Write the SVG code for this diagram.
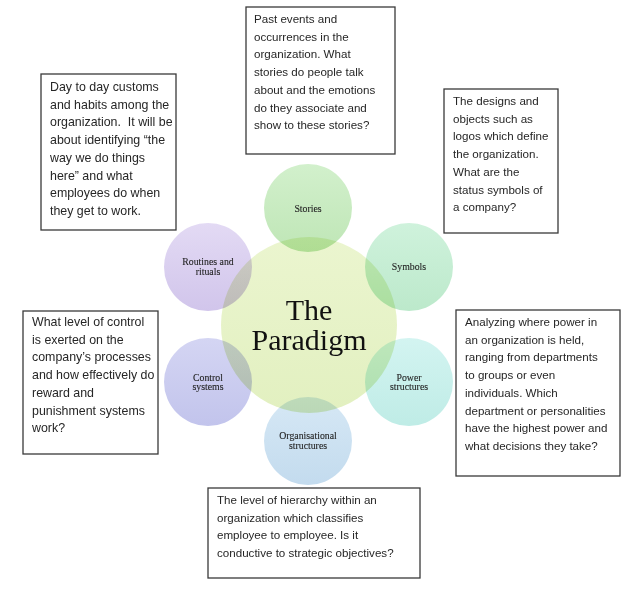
<svg xmlns="http://www.w3.org/2000/svg" width="640" height="589" viewBox="0 0 640 589">
<defs>
<linearGradient id="gStories" x1="0" y1="0" x2="0" y2="1"><stop offset="0" stop-color="#d2f0cc"/><stop offset="1" stop-color="#bfe6b6"/></linearGradient>
<linearGradient id="gSymbols" x1="0" y1="0" x2="0" y2="1"><stop offset="0" stop-color="#cff2dc"/><stop offset="1" stop-color="#bce9cb"/></linearGradient>
<linearGradient id="gPower" x1="0" y1="0" x2="0" y2="1"><stop offset="0" stop-color="#d3f4f1"/><stop offset="1" stop-color="#bfece6"/></linearGradient>
<linearGradient id="gOrg" x1="0" y1="0" x2="0" y2="1"><stop offset="0" stop-color="#d6e8f5"/><stop offset="1" stop-color="#c3dbee"/></linearGradient>
<linearGradient id="gControl" x1="0" y1="0" x2="0" y2="1"><stop offset="0" stop-color="#d4d5f3"/><stop offset="1" stop-color="#c2c4ec"/></linearGradient>
<linearGradient id="gRoutines" x1="0" y1="0" x2="0" y2="1"><stop offset="0" stop-color="#e3daf4"/><stop offset="1" stop-color="#d1c5eb"/></linearGradient>
<linearGradient id="gCenter" x1="0" y1="0" x2="0" y2="1"><stop offset="0" stop-color="#ebf5cf"/><stop offset="1" stop-color="#e2f0c0"/></linearGradient>
</defs>
<style>
.bg{fill:#ffffff}
.box{fill:#ffffff;stroke:#3a3a3a;stroke-width:1.3}
.t{font-family:"Liberation Sans",Arial,sans-serif;font-size:11.6px;fill:#262626}
.t2{font-family:"Liberation Sans",Arial,sans-serif;font-size:12.4px;fill:#262626}
.sat{mix-blend-mode:multiply}
.lbl{font-family:"Liberation Serif","Times New Roman",serif;font-size:9.8px;fill:#222222;stroke:#222222;stroke-width:0.1;text-anchor:middle}
.big{font-family:"Liberation Serif","Times New Roman",serif;font-size:30px;fill:#111111;text-anchor:middle}
</style>
<rect class="bg" x="0" y="0" width="640" height="589"/>
<g id="connectors"/>
<g id="paradigm">
<circle cx="309" cy="325" r="88" fill="url(#gCenter)"/>
</g>
<g id="stories" class="sat">
<circle cx="308" cy="208" r="44" fill="url(#gStories)"/>
</g>
<g id="symbols" class="sat">
<circle cx="409" cy="267" r="44" fill="url(#gSymbols)"/>
</g>
<g id="power" class="sat">
<circle cx="409" cy="382" r="44" fill="url(#gPower)"/>
</g>
<g id="organisational" class="sat">
<circle cx="308" cy="441" r="44" fill="url(#gOrg)"/>
</g>
<g id="control" class="sat">
<circle cx="208" cy="382" r="44" fill="url(#gControl)"/>
</g>
<g id="routines" class="sat">
<circle cx="208" cy="267" r="44" fill="url(#gRoutines)"/>
</g>
<g id="labels">
<text class="big" x="309" y="320">The</text>
<text class="big" x="309" y="350">Paradigm</text>
<text class="lbl" x="308" y="212">Stories</text>
<text class="lbl" x="409" y="270">Symbols</text>
<text class="lbl"><tspan x="409" y="380.5">Power</tspan><tspan x="409" y="390.2">structures</tspan></text>
<text class="lbl"><tspan x="308" y="439">Organisational</tspan><tspan x="308" y="448.7">structures</tspan></text>
<text class="lbl"><tspan x="208" y="380.5">Control</tspan><tspan x="208" y="390.2">systems</tspan></text>
<text class="lbl"><tspan x="208" y="265">Routines and</tspan><tspan x="208" y="274.7">rituals</tspan></text>
</g>
<g id="box-stories">
<rect class="box" x="246" y="7" width="149" height="147"/>
<text class="t"><tspan x="254" y="23">Past events and</tspan><tspan x="254" y="40.7">occurrences in the</tspan><tspan x="254" y="58.4">organization. What</tspan><tspan x="254" y="76.1">stories do people talk</tspan><tspan x="254" y="93.8">about and the emotions</tspan><tspan x="254" y="111.5">do they associate and</tspan><tspan x="254" y="129.2">show to these stories?</tspan></text>
</g>
<g id="box-routines">
<rect class="box" x="41" y="74" width="135" height="156"/>
<text class="t2" xml:space="preserve"><tspan x="50" y="91">Day to day customs</tspan><tspan x="50" y="108.7">and habits among the</tspan><tspan x="50" y="126.4">organization.  It will be</tspan><tspan x="50" y="144.1">about identifying “the</tspan><tspan x="50" y="161.8">way we do things</tspan><tspan x="50" y="179.5">here” and what</tspan><tspan x="50" y="197.2">employees do when</tspan><tspan x="50" y="214.9">they get to work.</tspan></text>
</g>
<g id="box-symbols">
<rect class="box" x="444" y="89" width="114" height="144"/>
<text class="t"><tspan x="453" y="105">The designs and</tspan><tspan x="453" y="122.7">objects such as</tspan><tspan x="453" y="140.4">logos which define</tspan><tspan x="453" y="158.1">the organization.</tspan><tspan x="453" y="175.8">What are the</tspan><tspan x="453" y="193.5">status symbols of</tspan><tspan x="453" y="211.2">a company?</tspan></text>
</g>
<g id="box-control">
<rect class="box" x="23" y="311" width="135" height="143"/>
<text class="t2"><tspan x="32" y="326">What level of control</tspan><tspan x="32" y="343.7">is exerted on the</tspan><tspan x="32" y="361.4">company’s processes</tspan><tspan x="32" y="379.1">and how effectively do</tspan><tspan x="32" y="396.8">reward and</tspan><tspan x="32" y="414.5">punishment systems</tspan><tspan x="32" y="432.2">work?</tspan></text>
</g>
<g id="box-power">
<rect class="box" x="456" y="310" width="164" height="166"/>
<text class="t"><tspan x="465" y="326">Analyzing where power in</tspan><tspan x="465" y="343.7">an organization is held,</tspan><tspan x="465" y="361.4">ranging from departments</tspan><tspan x="465" y="379.1">to groups or even</tspan><tspan x="465" y="396.8">individuals. Which</tspan><tspan x="465" y="414.5">department or personalities</tspan><tspan x="465" y="432.2">have the highest power and</tspan><tspan x="465" y="449.9">what decisions they take?</tspan></text>
</g>
<g id="box-organisational">
<rect class="box" x="208" y="488" width="212" height="90"/>
<text class="t"><tspan x="217" y="504">The level of hierarchy within an</tspan><tspan x="217" y="521.7">organization which classifies</tspan><tspan x="217" y="539.4">employee to employee. Is it</tspan><tspan x="217" y="557.1">conductive to strategic objectives?</tspan></text>
</g>
</svg>
